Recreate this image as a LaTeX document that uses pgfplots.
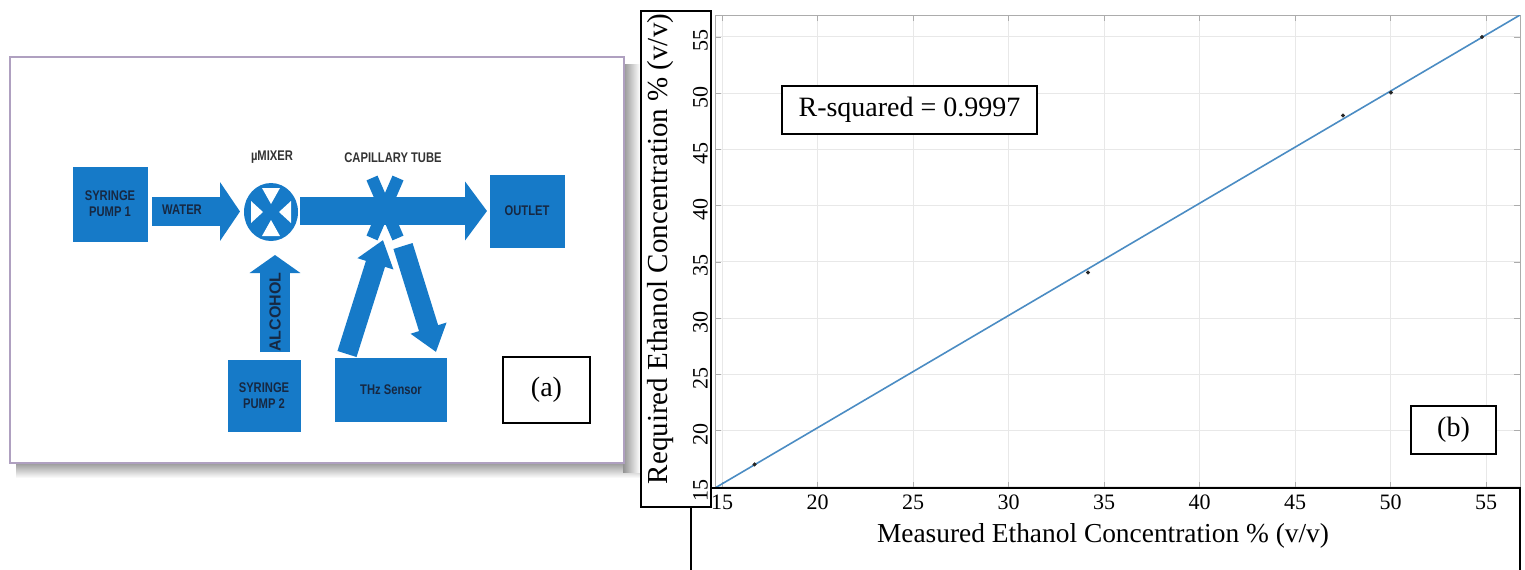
\documentclass[border=0pt]{standalone}
\usepackage{fontspec}
\setmainfont{Liberation Serif}
\newfontfamily\diagfont{Liberation Sans}
\usepackage{pgfplots}
\pgfplotsset{compat=1.18}
\usetikzlibrary{arrows.meta}

\definecolor{dblue}{RGB}{22,122,200}
\definecolor{dtext}{RGB}{22,40,66}
\definecolor{fitblue}{RGB}{75,140,195}
\definecolor{framec}{RGB}{175,160,192}

\begin{document}
\begin{tikzpicture}
\useasboundingbox (0,0) rectangle (762.5pt,-284.5pt);
% ---------------- panel (a): flow diagram, pixel coordinates ----------------
\begin{scope}[x=0.5pt,y=-0.5pt]
  \shade[top color=gray!85, bottom color=white] (16,462) rectangle (640,478);
  \shade[left color=gray!85, right color=white] (623,64) rectangle (640,472);
  \draw[framec, line width=1pt, fill=white] (10,57) rectangle (624,463);
  \tikzset{lbl/.style={font=\diagfont\bfseries\fontsize{7}{8}\selectfont, text=dtext, xscale=0.8, align=center}}
  % boxes
  \fill[dblue] (73,167) rectangle (148,242);
  \node[lbl] at (110,204) {SYRINGE\\PUMP 1};
  \fill[dblue] (490,175) rectangle (565,248);
  \node[lbl] at (527,211) {OUTLET};
  \fill[dblue] (228,360) rectangle (301,432);
  \node[lbl] at (264,396) {SYRINGE\\PUMP 2};
  \fill[dblue] (335,358) rectangle (447,422);
  \node[lbl] at (391,390) {THz Sensor};
  % arrows
  \draw[dblue, line width=14.5pt, -{Triangle[width=29pt,length=10pt]}] (152,211.5) -- (240,211.5);
  \node[lbl] at (182,210) {WATER};
  \draw[dblue, line width=14pt, -{Triangle[width=29pt,length=11pt]}] (300,211) -- (487,211);
  \draw[dblue, line width=15pt, -{Triangle[width=25pt,length=9pt]}] (275,352) -- (275,255);
  \node[font=\diagfont\bfseries\fontsize{8}{9}\selectfont, text=dtext, rotate=90] at (275,312) {ALCOHOL};
  \draw[dblue, line width=10pt, -{Triangle[width=18pt,length=12.5pt]}] (347,354) -- (383,240);
  \draw[dblue, line width=10pt, -{Triangle[width=18pt,length=12.5pt]}] (403,246) -- (436,352);
  % mixer
  \fill[dblue] (271,212) ellipse [x radius=27, y radius=29];
  \fill[white] (262,188) -- (280,188) -- (271,204) -- cycle;
  \fill[white] (262,236) -- (280,236) -- (271,220) -- cycle;
  \fill[white] (251,201) -- (251,223) -- (263,212) -- cycle;
  \fill[white] (291,201) -- (291,223) -- (279,212) -- cycle;
  \node[lbl, text=black!80] at (272,157) {µMIXER};
  % capillary cross
  \draw[dblue, line width=6pt] (372,178) -- (398,238) (398,178) -- (372,238);
  \node[lbl, text=black!80] at (393,158) {CAPILLARY TUBE};
  % (a) label
  \draw[black, line width=0.6pt, fill=white] (503,357) rectangle (590,423);
  \node[font=\fontsize{14}{16}\selectfont] at (546.5,390) {(a)};
  % y label box of panel (b)
  \draw[black, line width=0.7pt, fill=white] (641,11) rectangle (711,507);
  \node[rotate=90, font=\fontsize{14.5}{16}\selectfont] at (661,249)
    {Required Ethanol Concentration \% (v/v)};
\end{scope}
% ---------------- panel (b): calibration plot ----------------
\begin{axis}[
  at={(357.5pt,-7.5pt)}, anchor=north west,
  scale only axis, width=402.5pt, height=236.5pt,
  xmin=14.63, xmax=56.78, ymin=14.9, ymax=56.95,
  xtick={15,20,...,55}, ytick={15,20,...,55},
  grid=major, grid style={gray!18, line width=0.5pt},
  tick align=inside, tick pos=both, major tick length=3pt,
  axis line style={gray!65}, tick style={gray!65},
  /pgf/number format/assume math mode=true,
  ticklabel style={font=\fontsize{11}{12}\selectfont},
  yticklabel style={rotate=90, anchor=south, xshift=-2pt},
]
\addplot[fitblue, line width=0.8pt] coordinates {(14.63,14.9) (56.78,56.95)};
\addplot[only marks, mark=*, mark size=0.8pt, black!85] coordinates {
  (16.7,17.0) (34.16,34.06) (47.51,48.02) (50.02,50.06) (54.79,55.0)};
\end{axis}
\begin{scope}[x=0.5pt,y=-0.5pt]
  \draw[black, line width=0.7pt] (691,507) -- (691,580) (711,488) -- (1520,488) -- (1520,580);
  \node[font=\fontsize{13.7}{16}\selectfont] at (1103,536) {Measured Ethanol Concentration \% (v/v)};
  \draw[black, line width=0.6pt, fill=white] (782,86) rectangle (1037,134);
  \node[font=\fontsize{14}{16}\selectfont] at (909.5,110) {R-squared = 0.9997};
  \draw[black, line width=0.6pt, fill=white] (1411,406) rectangle (1496,454);
  \node[font=\fontsize{14}{16}\selectfont] at (1453.5,430) {(b)};
\end{scope}
\end{tikzpicture}
\end{document}
